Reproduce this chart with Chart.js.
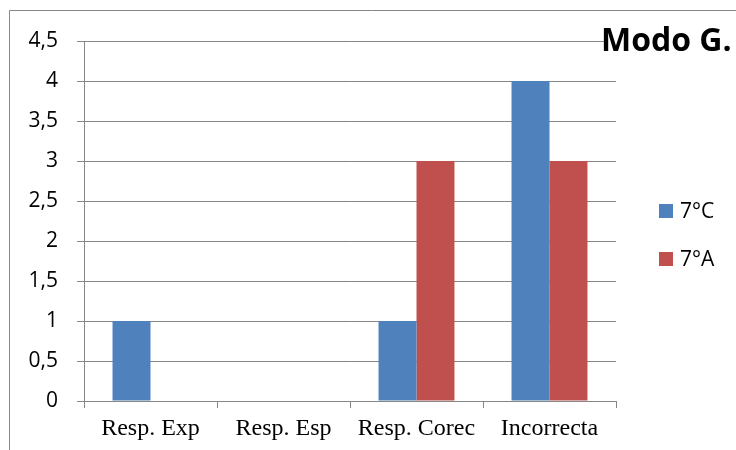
<!DOCTYPE html>
<html>
<head>
<meta charset="utf-8">
<script src="https://cdn.jsdelivr.net/npm/chart.js@4"></script>
<style>
  html, body { margin: 0; padding: 0; background: #fff; }
</style>
</head>
<body>
<canvas id="chart" width="736" height="450"></canvas>
<script>
var categories = ['Resp. Exp', 'Resp. Esp', 'Resp. Corec', 'Incorrecta'];
var series7C = [1, 0, 1, 4];
var series7A = [0, 0, 3, 3];
var seriesNames = ['7°C', '7°A'];
var yTickLabels = ['0', '0,5', '1', '1,5', '2', '2,5', '3', '3,5', '4', '4,5'];
var chartTitle = 'Modo G.';

var gridColor = '#868686';

// frame, title and legend drawn on top like the original sheet chart
var decorPlugin = {
    id: 'decor',
    afterDraw: function(chart) {
        var ctx = chart.ctx;
        ctx.save();

        // outer frame (only left and top edges are visible)
        ctx.strokeStyle = gridColor;
        ctx.lineWidth = 1;
        ctx.beginPath();
        ctx.moveTo(9.5, 450);
        ctx.lineTo(9.5, 10.5);
        ctx.lineTo(736, 10.5);
        ctx.stroke();

        // title
        ctx.fillStyle = '#ffffff';
        ctx.fillRect(606, 26, 130, 30);
        ctx.fillStyle = '#000000';
        ctx.font = 'bold 32px "Open Sans"';
        ctx.textAlign = 'left';
        ctx.textBaseline = 'alphabetic';
        ctx.fillText(chartTitle, 601, 51);

        // legend
        ctx.font = '21px "Open Sans"';
        ctx.textBaseline = 'middle';
        chart.data.datasets.forEach(function(ds, i) {
            var cy = 211 + i * 48;
            ctx.fillStyle = ds.backgroundColor;
            ctx.fillRect(659, cy - 7, 14, 14);
            ctx.fillStyle = '#000000';
            ctx.fillText(ds.label, 680, cy + 1);
        });
        ctx.restore();
    }
};

const ctx = document.getElementById('chart').getContext('2d');
const myChart = new Chart(ctx, {
    type: 'bar',
    data: {
        labels: categories,
        datasets: [{
            label: seriesNames[0],
            data: series7C,
            backgroundColor: '#4F81BD',
            borderWidth: 0,
            categoryPercentage: 0.571,
            barPercentage: 1
        }, {
            label: seriesNames[1],
            data: series7A,
            backgroundColor: '#C0504D',
            borderWidth: 0,
            categoryPercentage: 0.571,
            barPercentage: 1
        }]
    },
    options: {
        responsive: false,
        animation: false,
        layout: {
            padding: { left: 0, right: 120, top: 41, bottom: 0 }
        },
        plugins: {
            legend: { display: false },
            tooltip: { enabled: false }
        },
        scales: {
            x: {
                grid: {
                    drawOnChartArea: false,
                    drawTicks: true,
                    tickLength: 7,
                    color: gridColor
                },
                border: { color: gridColor },
                ticks: {
                    color: '#000000',
                    padding: 6,
                    autoSkip: false,
                    maxRotation: 0,
                    minRotation: 0,
                    font: { family: '"Liberation Serif"', size: 24 }
                },
                afterFit: function(scale) { scale.height = 49; }
            },
            y: {
                min: 0,
                max: 4.5,
                ticks: {
                    stepSize: 0.5,
                    autoSkip: false,
                    color: '#000000',
                    padding: 19,
                    font: { family: '"Open Sans"', size: 21 },
                    callback: function(value, i) { return yTickLabels[i]; }
                },
                grid: {
                    color: gridColor,
                    tickLength: 7
                },
                border: { color: gridColor },
                afterFit: function(scale) { scale.width = 84; }
            }
        }
    },
    plugins: [decorPlugin]
});
</script>
</body>
</html>
